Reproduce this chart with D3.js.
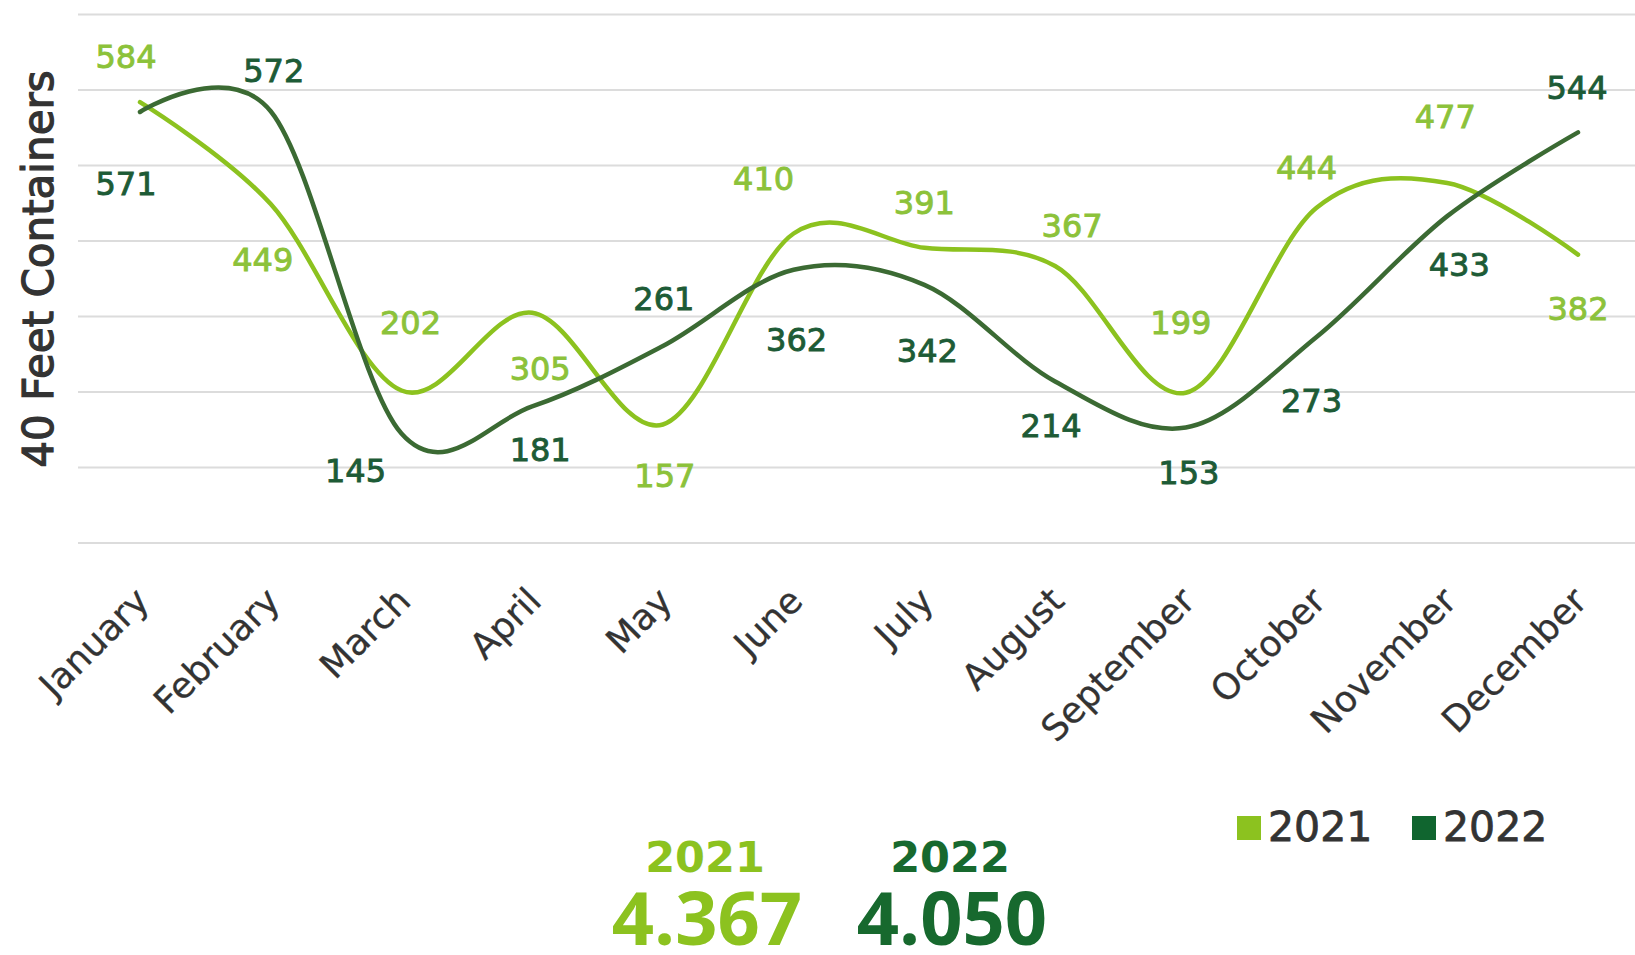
<!DOCTYPE html>
<html><head><meta charset="utf-8">
<script src="https://cdn.jsdelivr.net/npm/d3@7"></script>
<style>
html,body{margin:0;padding:0;background:#fff;}
svg{display:block;font-family:"DejaVu Sans","Noto Sans",sans-serif;}
</style></head>
<body><svg id="c" width="1635" height="955"></svg>
<script>
// ---- data ----
const months = ["January","February","March","April","May","June","July","August","September","October","November","December"];
const values2021 = [584,449,202,305,157,410,391,367,199,444,477,382];
const values2022 = [571,572,145,181,261,362,342,214,153,273,433,544];
const seriesNames = ["2021","2022"];
const totals = ["4.367","4.050"];
const yTicks = [0,100,200,300,400,500,600,700];
const yTitle = "40 Feet Containers";

// ---- layout / style ----
const colLine = ["#8cc21f","#3b6a33"];
const colLabel = ["#8cc23a","#1d5b36"];
const colTotal = ["#8cc21f","#17692e"];
const colLegend = ["#8cc21f","#10652f"];
// label offsets (dx, dy) relative to each point
const lblOff2021 = [[-14,-45],[-8,56],[9,-68],[8,56],[2,52],[-30,-55],[0,-45],[17,-40],[-5,-70],[-10,-40],[-2,-66],[0,54]];
const lblOff2022 = [[-14,72],[3,-40],[-46,37],[8,44],[1,-47],[3,70],[3,66],[-4,45],[3,45],[-5,64],[12,49],[-1,-44]];

const svg = d3.select("#c");
const x = d3.scalePoint().domain(months).range([140,1578]);
const y = d3.scaleLinear().domain([0,700]).range([543,14.6]);

// gridlines
svg.append("g").selectAll("line").data(yTicks).join("line")
  .attr("x1",78).attr("x2",1635)
  .attr("y1",d=>y(d)).attr("y2",d=>y(d))
  .attr("stroke","#dcdcdc").attr("stroke-width",2);

// y title
svg.append("text")
  .attr("transform","translate(38,269) rotate(-90)")
  .attr("text-anchor","middle").attr("dominant-baseline","central")
  .attr("font-size",42).attr("fill","#333")
  .attr("stroke","#333").attr("stroke-width",1.2)
  .text(yTitle);

// x axis labels
svg.append("g").selectAll("text").data(months).join("text")
  .attr("transform",d=>`translate(${x(d)-8},584) rotate(-45)`)
  .attr("text-anchor","end").attr("dy","0.75em")
  .attr("font-size",36).attr("fill","#333")
  .attr("stroke","#333").attr("stroke-width",0.3)
  .text(d=>d);

const line = d3.line().x((d,i)=>x(months[i])).y(d=>y(d)).curve(d3.curveCatmullRom.alpha(0));
const series = [values2021, values2022];
const offs = [lblOff2021, lblOff2022];
series.forEach((vals,k)=>{
  svg.append("path").datum(vals).attr("d",line)
    .attr("fill","none").attr("stroke",colLine[k]).attr("stroke-width",4.5)
    .attr("stroke-linecap","round");
});
series.forEach((vals,k)=>{
  svg.append("g").selectAll("text").data(vals).join("text")
    .attr("x",(d,i)=>x(months[i])+offs[k][i][0])
    .attr("y",(d,i)=>y(d)+offs[k][i][1])
    .attr("text-anchor","middle").attr("dominant-baseline","central")
    .attr("font-size",32).attr("fill",colLabel[k])
    .attr("stroke",colLabel[k]).attr("stroke-width",0.9)
    .text(d=>d);
});

// legend
const leg = svg.append("g");
[[1237,"2021"],[1412,"2022"]].forEach((p,k)=>{
  leg.append("rect").attr("x",p[0]).attr("y",816).attr("width",24).attr("height",24).attr("fill",colLegend[k]);
  leg.append("text").attr("x",p[0]+31).attr("y",841).attr("font-size",41).attr("fill","#333")
    .attr("stroke","#333").attr("stroke-width",0.8).text(seriesNames[k]);
});

// totals
[[705,seriesNames[0],totals[0]],[950,seriesNames[1],totals[1]]].forEach((p,k)=>{
  svg.append("text").attr("x",p[0]).attr("y",872).attr("text-anchor","middle")
    .attr("font-size",43).attr("font-weight",700).attr("fill",colTotal[k]).text(p[1]);
  svg.append("text").attr("x",p[0]+2).attr("y",945)
    .attr("text-anchor","middle").attr("font-family","'Open Sans',sans-serif")
    .attr("font-size",74).attr("font-weight",700).attr("fill",colTotal[k]).text(p[2]);
});
</script></body></html>
